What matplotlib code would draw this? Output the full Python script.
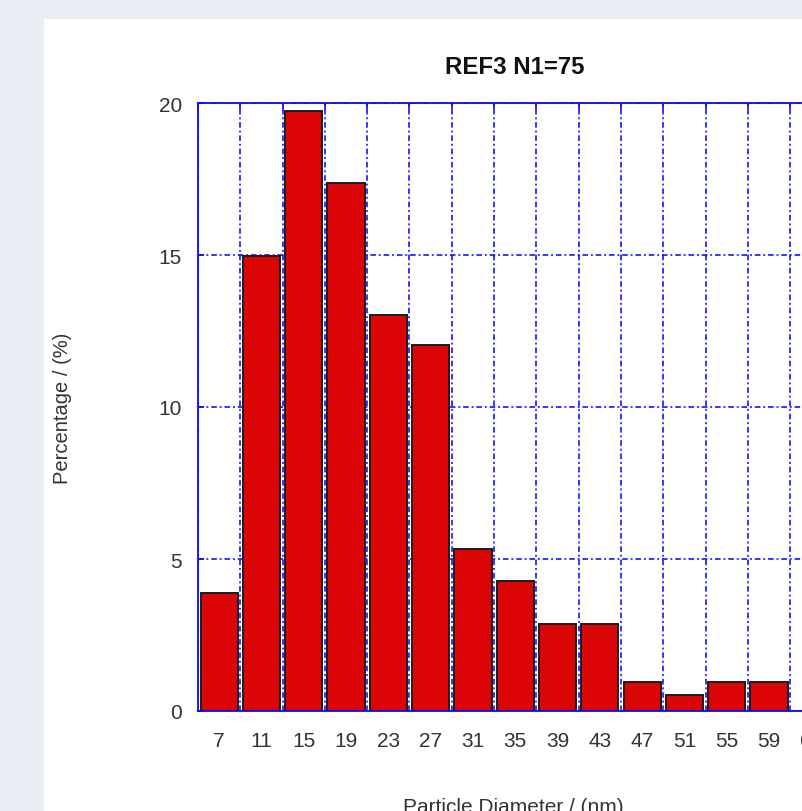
import numpy as np
import matplotlib
matplotlib.use("Agg")
import matplotlib.pyplot as plt
from matplotlib.patches import Rectangle
from matplotlib.ticker import FixedLocator

plt.rcParams['font.family'] = ['Liberation Sans', 'DejaVu Sans']

# particle size distribution, bin centres in nm and share of particles in %
diameters = [7, 11, 15, 19, 23, 27, 31, 35, 39, 43, 47, 51, 55, 59, 63]
percentage = [3.87, 14.96, 19.75, 17.37, 13.03, 12.04, 5.33, 4.29,
              2.86, 2.86, 0.95, 0.51, 0.95, 0.95, 0.0]
bin_width = 4
title = "REF3 N1=75"

W, H = 803, 812
blue = '#0a0aff'

fig = plt.figure(figsize=(W / 100, H / 100), dpi=100, facecolor='#e9ecf2')
# white panel behind the chart
fig.patches.append(Rectangle((44 / W, 0), 1 - 44 / W, 1 - 20 / H,
                             transform=fig.transFigure, facecolor='white',
                             edgecolor='none', zorder=-10))

ax = fig.add_axes([198 / W, 100 / H, 634.5 / W, 608 / H])
ax.set_facecolor('white')

edges = np.arange(diameters[0] - bin_width / 2, diameters[-1] + bin_width, bin_width)

ax.bar(diameters, percentage, width=bin_width * 0.88, color='#dc0505',
       edgecolor='#1c1c1c', linewidth=1.4, zorder=3)

ax.set_xlim(edges[0], edges[-1])
ax.set_ylim(0, 20)

ax.set_xticks(diameters)
ax.xaxis.set_minor_locator(FixedLocator(edges))
ax.set_yticks([0, 5, 10, 15, 20])

ax.tick_params(axis='x', which='major', length=0, pad=14.5, labelsize=15, colors='#333333')
ax.tick_params(axis='x', which='minor', direction='in', length=4, width=1.2,
               color=blue, top=True, bottom=False)
ax.tick_params(axis='y', which='major', direction='in', length=4, width=1.2,
               color=blue, pad=11.5, labelsize=15, labelcolor='#333333')

grid_style = dict(color=blue, linestyle=(0, (3.5, 1.8, 1.2, 1.8)), linewidth=1.15, zorder=1)
ax.grid(False)
ax.xaxis.grid(True, which='minor', **grid_style)
ax.yaxis.grid(True, which='major', **grid_style)
ax.set_axisbelow(True)

for side in ax.spines.values():
    side.set_color(blue)
    side.set_linewidth(1.3)
    side.set_zorder(4)

ax.set_title(title, fontsize=17.3, fontweight='bold', pad=21.5, color='#111111')
fig.text(63 / W, 1 - 408 / H, "Percentage / (%)", rotation=90, ha='center',
         va='center', fontsize=14.5, color='#333333')
fig.text(513.5 / W, -1 / H, "Particle Diameter / (nm)", ha='center',
         va='baseline', fontsize=15, color='#333333')

fig.savefig("out.png", dpi=100, facecolor=fig.get_facecolor())
